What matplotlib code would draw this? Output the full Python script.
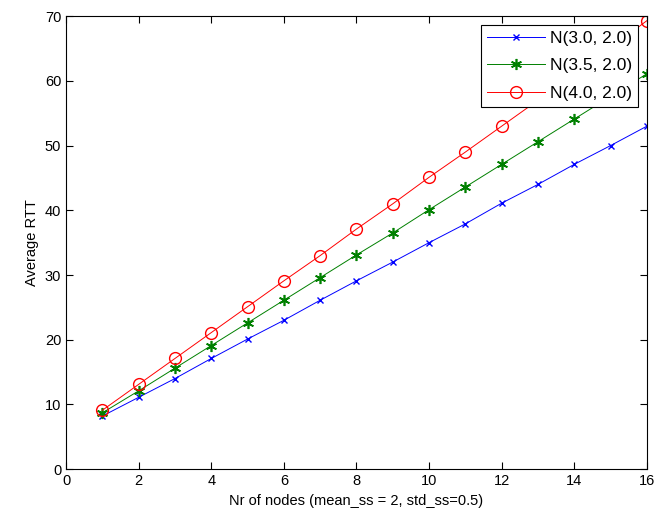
import matplotlib
matplotlib.use('Agg')
import matplotlib.pyplot as plt

# datos
nodos = list(range(1, 17))
rtt_30 = [8.2, 11.1, 14.0, 17.1, 20.1, 23.0, 26.1, 29.1, 32.0, 35.0, 37.9, 41.1, 44.0, 47.1, 50.0, 53.0]
rtt_35 = [8.7, 12.1, 15.6, 19.1, 22.6, 26.1, 29.6, 33.1, 36.5, 40.1, 43.6, 47.1, 50.6, 54.1, 57.6, 61.1]
rtt_40 = [9.1, 13.1, 17.1, 21.1, 25.1, 29.1, 33.0, 37.1, 41.0, 45.1, 49.0, 53.0, 57.0, 61.0, 65.1, 69.3]
etiquetas = ['N(3.0, 2.0)', 'N(3.5, 2.0)', 'N(4.0, 2.0)']

plt.rcParams['font.family'] = ['Liberation Sans', 'DejaVu Sans']
plt.rcParams['font.size'] = 10.5

fig = plt.figure(figsize=(6.54, 5.23), dpi=100)
ax = fig.add_axes([0.101, 0.103, 0.888, 0.866])

ax.plot(nodos, rtt_30, color='#0000ff', marker='x', ms=5, lw=0.7, label=etiquetas[0])
ax.plot(nodos, rtt_35, color='#008000', marker=(6, 2, 0), ms=8, mew=1.2, lw=0.7, label=etiquetas[1])
ax.plot(nodos, rtt_40, color='#ff0000', marker='o', ms=8.5, mfc='none', lw=0.7, label=etiquetas[2])

ax.set_xlim(0, 16)
ax.set_ylim(0, 70)
ax.set_xticks(range(0, 17, 2))
ax.set_yticks(range(0, 71, 10))
ax.tick_params(direction='in', top=True, right=True, length=5, width=0.8)
for s in ax.spines.values():
    s.set_linewidth(0.8)

ax.set_xlabel('Nr of nodes (mean_ss = 2, std_ss=0.5)')
ax.set_ylabel('Average RTT')

leg = ax.legend(loc='upper right', fancybox=False, framealpha=1, edgecolor='black',
                borderaxespad=0.5, handlelength=3.3, handletextpad=0.3,
                labelspacing=0.7, borderpad=0.35, fontsize=12.5)
leg.get_frame().set_linewidth(0.8)
leg.set_zorder(5)

fig.savefig('out.png', dpi=100)
